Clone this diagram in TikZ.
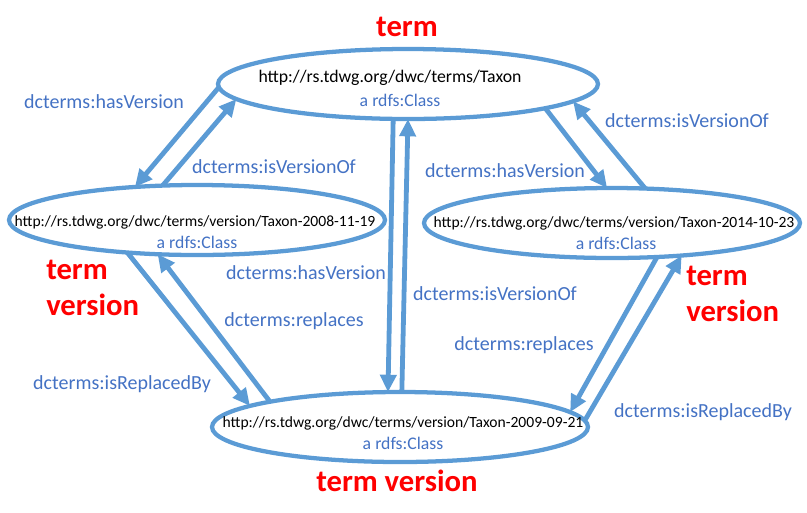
\documentclass[tikz,border=0pt]{standalone}
\usepackage{fontspec}
\setmainfont{Carlito}
\usetikzlibrary{arrows.meta,shapes.geometric}
\definecolor{rdfline}{HTML}{5B9BD5}
\definecolor{rdftext}{HTML}{4472C4}

\begin{document}
\begin{tikzpicture}[x=0.75pt, y=-0.75pt, >={Triangle[length=13pt,width=12pt]},
    cls/.style={ellipse, draw=rdfline, line width=3.2pt, inner sep=0pt, outer sep=0pt,
                minimum width=282pt, minimum height=52.5pt},
    uri/.style={inner sep=0pt, font=\fontsize{11.7}{14}\selectfont},
    rdfs/.style={inner sep=0pt, text=rdftext, font=\fontsize{13.3}{16}\selectfont},
    rel/.style={inner sep=0pt, text=rdftext, font=\fontsize{15}{18}\selectfont},
    kind/.style={inner sep=0pt, text=red, align=left, font=\bfseries\fontsize{23}{27.5}\selectfont},
    link/.style={draw=rdfline, line width=3.6pt}]
    \useasboundingbox (0,0) rectangle (807,512);

    % Nodes {taxon, v2008, v2014, v2009}
    \node [cls, minimum width=285pt]  (taxon)  at (408,84)   {};
    \node [cls]                       (v2008)  at (197,220)  {};
    \node [cls]                       (v2014)  at (612,223)  {};
    \node [cls]                       (v2009)  at (400,427)  {};

    \node [uri, font=\fontsize{13.3}{16}\selectfont] (taxonuri) at (390,78) {http://rs.tdwg.org/dwc/terms/Taxon};
    \node [rdfs]  (taxoncls)  at (400,100)  {a rdfs:Class};
    \node [uri]   (v2008uri)  at (195,222)  {http://rs.tdwg.org/dwc/terms/version/Taxon-2008-11-19};
    \node [rdfs]  (v2008cls)  at (197,242)  {a rdfs:Class};
    \node [uri]   (v2014uri)  at (614,223)  {http://rs.tdwg.org/dwc/terms/version/Taxon-2014-10-23};
    \node [rdfs]  (v2014cls)  at (616,243)  {a rdfs:Class};
    \node [uri]   (v2009uri)  at (403,423)  {http://rs.tdwg.org/dwc/terms/version/Taxon-2009-09-21};
    \node [rdfs]  (v2009cls)  at (403,443)  {a rdfs:Class};

    % Kinds
    \node [kind]              (kindtop)    at (407,27)   {term};
    \node [kind, anchor=west] (kindleft)   at (46,288)   {term\\version};
    \node [kind, anchor=west] (kindright)  at (686,294)  {term\\version};
    \node [kind]              (kindbottom) at (397,481)  {term version};

    % Paths
    \path [->] (taxon.181) edge [link] (v2008.152);
    \path [->] (v2008.135) edge [link] (taxon.185);
    \path [->] (taxon.247) edge [link] (v2009.109);
    \path [->] (v2009.87)  edge [link] (taxon.270);
    \path [->] (taxon.350) edge [link] (v2014.98);
    \path [->] (v2014.46)  edge [link] (taxon.354);
    \path [->] (v2008.205) edge [link] (v2009.172);
    \path [->] (v2009.169) edge [link] (v2008.221);
    \path [->] (v2014.323) edge [link] (v2009.5);
    \path [->] (v2009.2)   edge [link] (v2014.335);

    % Labels
    \node [rel] (hasver1)  at (104,102)  {dcterms:hasVersion};
    \node [rel] (isverof1) at (274,167)  {dcterms:isVersionOf};
    \node [rel] (hasver2)  at (505,171)  {dcterms:hasVersion};
    \node [rel] (isverof2) at (687,121)  {dcterms:isVersionOf};
    \node [rel] (hasver3)  at (306,273)  {dcterms:hasVersion};
    \node [rel] (isverof3) at (495,294)  {dcterms:isVersionOf};
    \node [rel] (repl1)    at (294,321)  {dcterms:replaces};
    \node [rel] (repl2)    at (524,345)  {dcterms:replaces};
    \node [rel] (isrepl1)  at (122,384)  {dcterms:isReplacedBy};
    \node [rel] (isrepl2)  at (703,412)  {dcterms:isReplacedBy};
\end{tikzpicture}
\end{document}
